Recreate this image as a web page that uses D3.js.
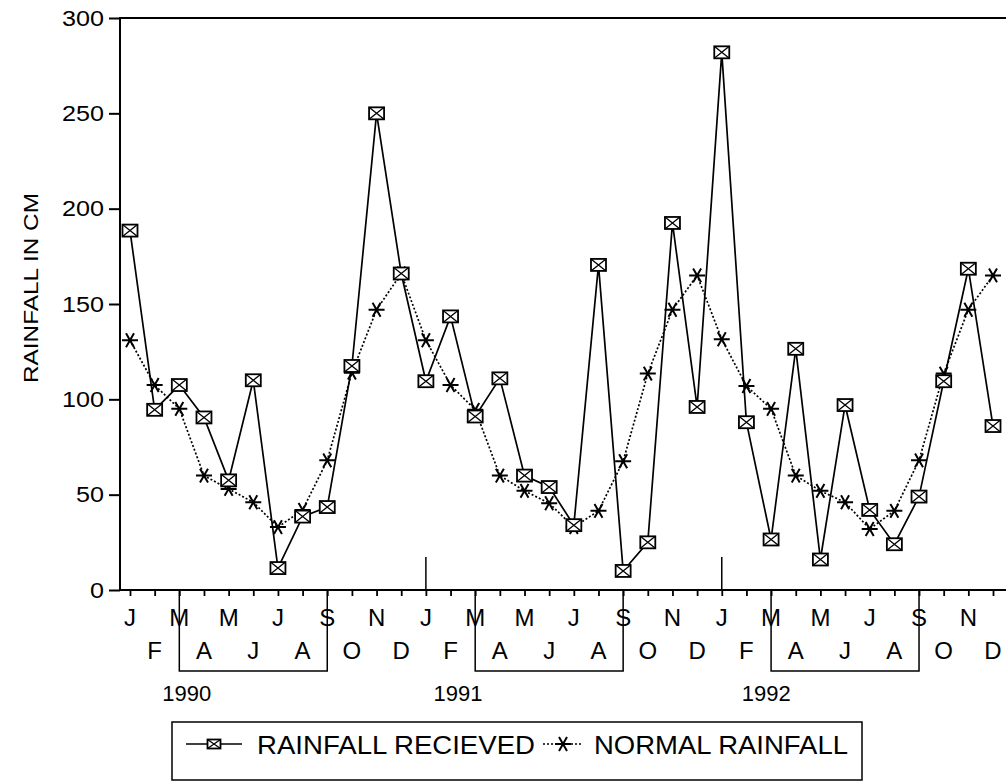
<!DOCTYPE html>
<html>
<head>
<meta charset="utf-8">
<script src="https://cdn.jsdelivr.net/npm/d3@7"></script>
<style>
  body { margin: 0; background: #fff; }
  svg { display: block; }
  text { font-family: "Liberation Sans", Arial, sans-serif; fill: #000; }
</style>
</head>
<body>
<svg id="chart" width="1006" height="783"></svg>
<script>
// month letters, Jan 1990 .. Dec 1992
const months = ["J","F","M","A","M","J","J","A","S","O","N","D",
                "J","F","M","A","M","J","J","A","S","O","N","D",
                "J","F","M","A","M","J","J","A","S","O","N","D"];

// rainfall received (cm)
const received = [188.5, 94.5, 107.5, 90.5, 57.5, 110, 11.5, 38.5, 43.5, 117.5, 250, 166,
                  109.5, 143.5, 91, 111, 60, 54, 34, 170.5, 10, 25, 192.5, 96,
                  282, 88, 26.5, 126.5, 16, 97, 42, 24, 49, 109.5, 168.5, 86];

// normal rainfall (cm)
const normal = [131, 107.5, 95, 60, 53, 46, 33, 42, 68, 114, 147, 166,
                131, 107.5, 94.5, 60, 52, 45.5, 33, 41.5, 67.5, 113.5, 147, 165,
                131.5, 107, 95, 60, 52, 46, 32, 41.5, 68, 113.5, 147, 165];

const yTicks = [0, 50, 100, 150, 200, 250, 300];
const years = ["1990", "1991", "1992"];
const seriesNames = ["RAINFALL RECIEVED", "NORMAL RAINFALL"];

// layout
const plotLeft = 120, plotTop = 18, plotBottom = 590, plotRight = 1012;
const yearLabelAt = [2.3, 13.3, 25.8];   // month index where each year label is centred
const monsoon = [2, 8];                    // Mar..Sep box within each year

const svg = d3.select("#chart");

const x = d3.scaleLinear().domain([0, 35]).range([130, 993]);
const y = d3.scaleLinear().domain([0, 300]).range([plotBottom, plotTop]);

// frame: left axis, top line, bottom axis
svg.append("path")
    .attr("d", `M${plotRight},${plotTop}H${plotLeft}V${plotBottom}H${plotRight}`)
    .attr("fill", "none").attr("stroke", "#000").attr("stroke-width", 2);

// y axis
const yAxis = svg.append("g")
    .attr("transform", `translate(${plotLeft},0)`)
    .call(d3.axisLeft(y).tickValues(yTicks).tickSize(11).tickPadding(5));
yAxis.select(".domain").remove();
yAxis.selectAll("line").attr("stroke-width", 2);
yAxis.selectAll("text")
    .attr("font-size", 22)
    .attr("font-family", "Liberation Sans, Arial, sans-serif")
    .attr("textLength", d => String(d).length * 14)
    .attr("lengthAdjust", "spacingAndGlyphs");

// x axis ticks, one per month
const xAxis = svg.append("g")
    .attr("transform", `translate(0,${plotBottom})`)
    .call(d3.axisBottom(x).tickValues(d3.range(months.length)).tickSize(6).tickFormat(""));
xAxis.select(".domain").remove();
xAxis.selectAll("line").attr("stroke-width", 1.8);

// year separators
svg.selectAll("line.sep")
    .data([12, 24])
    .join("line")
    .attr("x1", d => x(d)).attr("x2", d => x(d))
    .attr("y1", plotBottom - 33).attr("y2", plotBottom)
    .attr("stroke", "#000").attr("stroke-width", 1.5);

// monsoon boxes under the axis
svg.selectAll("path.box")
    .data(years.map((yr, i) => i * 12))
    .join("path")
    .attr("d", d => `M${x(d + monsoon[0])},${plotBottom}V671H${x(d + monsoon[1])}V${plotBottom}`)
    .attr("fill", "none").attr("stroke", "#000").attr("stroke-width", 1.5);

// month letters in two staggered rows
svg.append("g").selectAll("text")
    .data(months)
    .join("text")
    .attr("x", (d, i) => x(i))
    .attr("y", (d, i) => i % 2 === 0 ? 626 : 659)
    .attr("text-anchor", "middle")
    .attr("font-size", 24)
    .text(d => d);

// year labels
svg.append("g").selectAll("text")
    .data(years)
    .join("text")
    .attr("x", (d, i) => x(yearLabelAt[i]))
    .attr("y", 701)
    .attr("text-anchor", "middle")
    .attr("font-size", 22)
    .text(d => d);

// y label
svg.append("text")
    .attr("transform", "translate(38,288) rotate(-90)")
    .attr("text-anchor", "middle")
    .attr("font-size", 21)
    .attr("textLength", 190)
    .attr("lengthAdjust", "spacingAndGlyphs")
    .text("RAINFALL IN CM");

// markers
function squareMarker(sel, w, h) {
    sel.append("rect")
        .attr("x", -w / 2).attr("y", -h / 2).attr("width", w).attr("height", h)
        .attr("fill", "#fff").attr("stroke", "#000").attr("stroke-width", 1.8);
    sel.append("path")
        .attr("d", `M${-w / 2},${-h / 2}L${w / 2},${h / 2}M${w / 2},${-h / 2}L${-w / 2},${h / 2}`)
        .attr("stroke", "#000").attr("stroke-width", 1.3);
}
function starMarker(sel, r) {
    const a = Math.PI / 3;
    sel.append("path")
        .attr("d", `M${-r},0H${r}` +
            `M${-r * Math.cos(a)},${-r * Math.sin(a)}L${r * Math.cos(a)},${r * Math.sin(a)}` +
            `M${r * Math.cos(a)},${-r * Math.sin(a)}L${-r * Math.cos(a)},${r * Math.sin(a)}`)
        .attr("stroke", "#000").attr("stroke-width", 2);
}

const line = d3.line().x((d, i) => x(i)).y(d => y(d));

// normal rainfall: dotted line with asterisks
svg.append("path")
    .datum(normal)
    .attr("d", line)
    .attr("fill", "none").attr("stroke", "#000")
    .attr("stroke-width", 1.7).attr("stroke-dasharray", "2,2");
svg.append("g").selectAll("g")
    .data(normal)
    .join("g")
    .attr("transform", (d, i) => `translate(${x(i)},${y(d)})`)
    .each(function() { starMarker(d3.select(this), 8); });

// rainfall received: solid line with boxed crosses
svg.append("path")
    .datum(received)
    .attr("d", line)
    .attr("fill", "none").attr("stroke", "#000").attr("stroke-width", 1.7);
svg.append("g").selectAll("g")
    .data(received)
    .join("g")
    .attr("transform", (d, i) => `translate(${x(i)},${y(d)})`)
    .each(function() { squareMarker(d3.select(this), 15, 12); });

// legend
const legend = svg.append("g");
legend.append("rect")
    .attr("x", 172).attr("y", 722).attr("width", 690).attr("height", 58)
    .attr("fill", "none").attr("stroke", "#000").attr("stroke-width", 1.5);

legend.append("line")
    .attr("x1", 186).attr("x2", 242).attr("y1", 744).attr("y2", 744)
    .attr("stroke", "#000").attr("stroke-width", 1.7);
legend.append("g").attr("transform", "translate(214,744)")
    .call(g => squareMarker(g, 13, 9));
legend.append("text")
    .attr("x", 257).attr("y", 754).attr("font-size", 25)
    .attr("textLength", 278).attr("lengthAdjust", "spacingAndGlyphs")
    .text(seriesNames[0]);

legend.append("line")
    .attr("x1", 543).attr("x2", 583).attr("y1", 744).attr("y2", 744)
    .attr("stroke", "#000").attr("stroke-width", 1.7).attr("stroke-dasharray", "2,2");
legend.append("g").attr("transform", "translate(563,744)")
    .call(g => starMarker(g, 8));
legend.append("text")
    .attr("x", 594).attr("y", 754).attr("font-size", 25)
    .attr("textLength", 254).attr("lengthAdjust", "spacingAndGlyphs")
    .text(seriesNames[1]);
</script>
</body>
</html>
